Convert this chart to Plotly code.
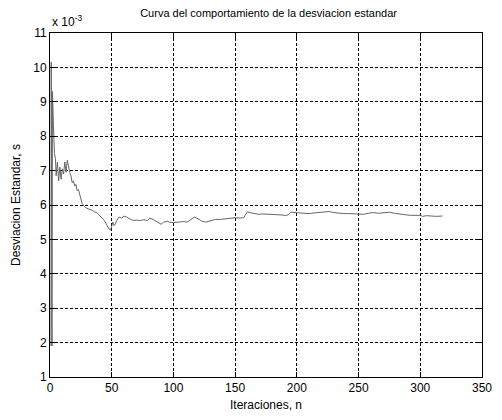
import plotly.graph_objects as go

iteraciones = [0.8, 1.0, 1.6, 2.0, 2.8, 3.6, 4.4, 5, 6, 7, 8, 9, 10, 11, 12, 13, 14, 15, 16, 17, 18, 19, 20,
               21, 22, 23, 24, 25, 26, 27, 28, 30, 32, 34, 36, 38, 40, 42, 44, 46, 47, 48,
               49, 50, 51, 52, 53, 54, 56, 58, 60, 62, 64, 66, 68, 70, 73, 76, 79, 81, 84,
               86, 88, 90, 92, 95, 97, 100, 104, 108, 111, 114, 117, 120, 123, 126, 130,
               134, 138, 142, 146, 150, 154, 157, 158, 160, 163, 166, 169, 172, 176, 180,
               184, 188, 191, 193, 195, 198, 202, 206, 210, 214, 218, 222, 226, 230, 234,
               238, 242, 246, 250, 254, 258, 262, 266, 270, 275, 279, 283, 287, 292, 296,
               300, 302, 305, 309, 313, 318]
desviacion = [1.9, 10.15, 1.9, 9.3, 8.3, 7.5, 7.35, 6.85, 7.25, 6.7, 7.1, 6.75, 7.05, 6.9, 7.25, 6.95,
              7.3, 7.1, 6.95, 6.85, 6.65, 6.7, 6.55, 6.6, 6.42, 6.45, 6.3, 6.15, 6.05, 6.0,
              5.95, 5.9, 5.88, 5.85, 5.8, 5.78, 5.7, 5.62, 5.55, 5.42, 5.35, 5.3, 5.27, 5.4,
              5.5, 5.4, 5.45, 5.55, 5.65, 5.62, 5.68, 5.65, 5.6, 5.57, 5.55, 5.56, 5.55,
              5.57, 5.55, 5.62, 5.57, 5.53, 5.5, 5.44, 5.5, 5.53, 5.5, 5.49, 5.5, 5.52, 5.5,
              5.58, 5.65, 5.6, 5.53, 5.5, 5.55, 5.58, 5.58, 5.6, 5.62, 5.63, 5.62, 5.63,
              5.7, 5.8, 5.77, 5.75, 5.73, 5.74, 5.73, 5.72, 5.73, 5.71, 5.69, 5.72, 5.79,
              5.78, 5.76, 5.76, 5.75, 5.77, 5.78, 5.8, 5.81, 5.78, 5.76, 5.75, 5.75, 5.74,
              5.73, 5.73, 5.76, 5.78, 5.76, 5.77, 5.79, 5.76, 5.73, 5.72, 5.7, 5.71, 5.7,
              5.67, 5.69, 5.68, 5.67, 5.68]

x_ticks = [0, 50, 100, 150, 200, 250, 300, 350]
y_ticks = [1, 2, 3, 4, 5, 6, 7, 8, 9, 10, 11]

FONT = "Liberation Sans, Arial, sans-serif"

fig = go.Figure()
fig.add_trace(go.Scatter(x=iteraciones, y=desviacion, mode="lines",
                         line=dict(color="#666666", width=1), showlegend=False))

axis_common = dict(showline=True, linecolor="black", linewidth=1, mirror="ticks",
                   ticks="inside", ticklen=5, tickcolor="black", showgrid=True,
                   gridcolor="black", gridwidth=1, griddash="3px,2px", zeroline=False,
                   tickfont=dict(family=FONT, size=12, color="black"))

fig.update_layout(
    width=502, height=420,
    margin=dict(l=50, r=10, t=33, b=41),
    paper_bgcolor="white", plot_bgcolor="white",
    title=dict(text="Curva del comportamiento de la desviacion estandar",
               x=0.535, xanchor="center", y=0.968, yanchor="middle",
               font=dict(family=FONT, size=11, color="black")),
    xaxis=dict(range=[0, 350], tickvals=x_ticks, ticktext=[str(v) for v in x_ticks],
               title=dict(text="Iteraciones, n", standoff=6,
                          font=dict(family=FONT, size=12, color="black")),
               **axis_common),
    yaxis=dict(range=[1, 11], tickvals=y_ticks, ticktext=[str(v) for v in y_ticks],
               title=dict(text="Desviacion Estandar, s", standoff=10,
                          font=dict(family=FONT, size=12, color="black")),
               **axis_common),
    annotations=[dict(text="x 10<sup>-3</sup>", xref="paper", yref="paper",
                      x=0.0, y=1.0, xanchor="left", yanchor="bottom", showarrow=False,
                      yshift=2, font=dict(family=FONT, size=12, color="black"))],
)

fig.write_html("out.html")
